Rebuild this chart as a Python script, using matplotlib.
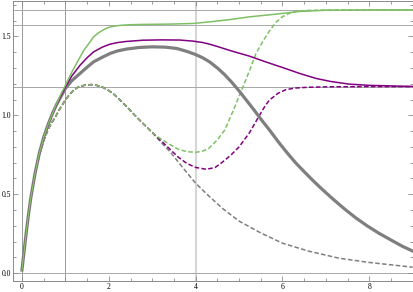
import numpy as np
import matplotlib
matplotlib.use("Agg")
from matplotlib import pyplot as plt
from matplotlib.ticker import MultipleLocator

# values
x_rise = [0, 0.05, 0.1, 0.15, 0.2, 0.3, 0.4, 0.5, 0.6, 0.7, 0.8, 0.9]
y_rise = [0.02, 0.14, 0.26, 0.37, 0.47, 0.63, 0.76, 0.86, 0.94, 1.01, 1.07, 1.12]

x_gray = x_rise + [1.0, 1.15, 1.34, 1.5, 1.65, 1.85, 2.03, 2.2, 2.41, 2.7, 3.0, 3.3, 3.56, 3.8, 4.0,
                   4.16, 4.32, 4.5, 4.66, 4.83, 5.0, 5.18, 5.35, 5.52, 5.7, 5.93, 6.1, 6.3, 6.5, 6.69,
                   6.9, 7.1, 7.3, 7.46, 7.7, 7.95, 8.22, 8.5, 8.75, 9.0]
y_gray = y_rise + [1.17, 1.22, 1.266, 1.305, 1.339, 1.368, 1.392, 1.408, 1.42, 1.43, 1.434, 1.432, 1.424, 1.405, 1.385,
                   1.365, 1.339, 1.30, 1.26, 1.21, 1.155, 1.092, 1.032, 0.97, 0.907, 0.823, 0.765, 0.70, 0.643, 0.59,
                   0.535, 0.485, 0.437, 0.40, 0.348, 0.30, 0.253, 0.21, 0.172, 0.14]

x_purple = x_rise + [1.0, 1.15, 1.34, 1.5, 1.65, 1.85, 2.03, 2.2, 2.4, 2.79, 3.2, 3.64, 3.94, 4.15, 4.32,
                     4.55, 4.8, 5.0, 5.24, 5.6, 6.0, 6.4, 6.77, 7.1, 7.53, 8.0, 8.68, 9.0]
y_purple = y_rise[:-1] + [1.125, 1.18, 1.25, 1.318, 1.365, 1.402, 1.432, 1.451, 1.461, 1.468, 1.476, 1.478, 1.477, 1.470, 1.462, 1.451,
                          1.432, 1.41, 1.394, 1.375, 1.34, 1.303, 1.265, 1.234, 1.215, 1.198, 1.19, 1.185, 1.183]

x_green = x_rise + [1.0, 1.15, 1.25, 1.34, 1.42, 1.5, 1.58, 1.65, 1.75, 1.85, 1.95, 2.03, 2.15, 2.3, 2.5,
                    2.79, 3.4, 3.94, 4.32, 4.8, 5.24, 5.85, 6.39, 7.0, 8.0, 9.0]
y_green = y_rise[:-2] + [1.075, 1.135, 1.19, 1.275, 1.325, 1.37, 1.41, 1.44, 1.47, 1.497, 1.52, 1.538, 1.552, 1.56, 1.566, 1.571, 1.574,
                         1.576, 1.578, 1.582, 1.592, 1.607, 1.624, 1.641, 1.658, 1.666, 1.668, 1.668]

# dashed curves share the same start
x_dstart = [0, 0.05, 0.1, 0.15, 0.2, 0.3, 0.4, 0.5, 0.6, 0.68, 0.77, 0.88, 1.0, 1.1, 1.19, 1.3, 1.46, 1.6,
            1.72, 1.84, 2.0, 2.13, 2.26, 2.43, 2.6, 2.8, 3.02]
y_dstart = [0.02, 0.14, 0.26, 0.37, 0.47, 0.63, 0.75, 0.84, 0.91, 0.95, 0.99, 1.045, 1.097, 1.133, 1.16, 1.18, 1.192, 1.195,
            1.19, 1.181, 1.157, 1.13, 1.097, 1.05, 1.0, 0.945, 0.886]

x_dash_gray = x_dstart + [3.2, 3.41, 3.7, 4.0, 4.3, 4.62, 5.0, 5.5, 6.0, 6.6, 7.3, 8.0, 9.0]
y_dash_gray = y_dstart + [0.83, 0.77, 0.67, 0.57, 0.49, 0.41, 0.33, 0.255, 0.19, 0.14, 0.095, 0.068, 0.038]

x_dash_purple = x_dstart + [3.2, 3.41, 3.6, 3.8, 4.0, 4.25, 4.45, 4.6, 4.8, 5.0, 5.24, 5.47, 5.6, 5.7, 5.9,
                            6.08, 6.3, 6.6, 7.08, 8.0, 9.0]
y_dash_purple = y_dstart + [0.84, 0.785, 0.735, 0.695, 0.67, 0.658, 0.67, 0.70, 0.745, 0.80, 0.89, 1.0, 1.06, 1.097, 1.14,
                            1.163, 1.173, 1.178, 1.181, 1.182, 1.182]

x_dash_green = x_dstart + [3.2, 3.41, 3.6, 3.8, 4.0, 4.15, 4.3, 4.5, 4.67, 4.85, 5.09, 5.25, 5.39, 5.55, 5.7,
                           5.85, 6.0, 6.23, 6.6, 7.0, 8.0, 9.0]
y_dash_green = y_dstart + [0.85, 0.815, 0.785, 0.77, 0.766, 0.772, 0.79, 0.845, 0.907, 1.02, 1.18, 1.29, 1.392, 1.47, 1.535,
                           1.59, 1.625, 1.656, 1.665, 1.667, 1.668, 1.668]

grid_x_dark = [0, 1]
grid_x_light = [4]
grid_y = [0, 1.182, 1.5708, 1.668]

plt.rcParams['font.family'] = ['Liberation Serif', 'DejaVu Serif']

fig = plt.figure(figsize=(4.14, 2.92), dpi=100)
ax = fig.add_axes([0.031, 0.039, 0.966, 0.959])

for gx in grid_x_dark:
    ax.axvline(gx, color='#9a9a9a', lw=0.7, zorder=1)
for gx in grid_x_light:
    ax.axvline(gx, color='#d6d6d6', lw=1.5, zorder=1)
for gy in grid_y:
    ax.axhline(gy, color='#a8a8a8', lw=0.7, zorder=1)

gray = '#7f7f7f'
purple = '#800080'
green = '#7fc065'

ax.plot(x_dash_gray, y_dash_gray, color=gray, lw=1.1, dashes=(3, 1.5), zorder=3)
ax.plot(x_dash_purple, y_dash_purple, color=purple, lw=1.1, dashes=(3, 1.5), zorder=3)
ax.plot(x_dash_green, y_dash_green, color=green, lw=1.1, dashes=(3, 1.5), zorder=3)
ax.plot(x_gray, y_gray, color=gray, lw=2.3, zorder=4, solid_joinstyle='round')
ax.plot(x_purple, y_purple, color=purple, lw=1.1, zorder=5, solid_joinstyle='round')
ax.plot(x_green, y_green, color=green, lw=1.1, zorder=6, solid_joinstyle='round')

ax.set_xlim(-0.21, 9.0)
ax.set_ylim(-0.047, 1.727)
ax.xaxis.set_major_locator(MultipleLocator(2))
ax.xaxis.set_minor_locator(MultipleLocator(0.5))
ax.yaxis.set_major_locator(MultipleLocator(0.5))
ax.yaxis.set_minor_locator(MultipleLocator(0.1))
ax.xaxis.set_major_formatter(plt.FuncFormatter(lambda v, p: '%d' % v))
ax.yaxis.set_major_formatter(plt.FuncFormatter(lambda v, p: '%.1f' % v))

ax.tick_params(which='both', direction='in', top=True, right=True, color='#8a8a8a',
               labelsize=5.5, pad=1.5, width=0.6)
ax.tick_params(which='major', length=3.5)
ax.tick_params(which='minor', length=2)
for s in ax.spines.values():
    s.set_color('#8a8a8a')
    s.set_linewidth(0.7)

fig.savefig('out.png', dpi=100)
